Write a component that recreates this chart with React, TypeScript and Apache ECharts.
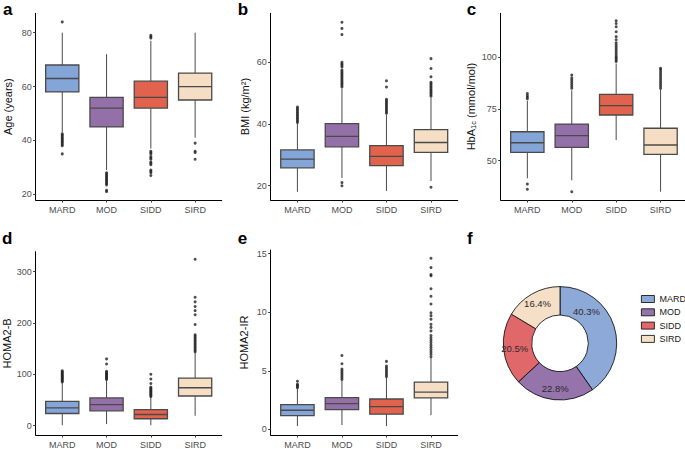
import React, { useEffect, useRef } from 'react';
import * as echarts from 'echarts';

// ---------------- data ----------------
const CATEGORIES = ['MARD', 'MOD', 'SIDD', 'SIRD'];

// box stats per category: [lower whisker, Q1, median, Q3, upper whisker]
const AGE_BOX = [
  [43, 58, 63, 68, 80],
  [29, 45, 52, 56, 72],
  [37, 52, 56, 62, 77],
  [41, 55, 60, 65, 80],
];
const AGE_OUT = [
  [84, 42.5, 42, 41.5, 41, 40.5, 40, 39.5, 39, 38.5, 38, 35],
  [28, 27.5, 27, 26.5, 26, 25.5, 25, 24.5, 24, 23.5, 21.5, 21],
  [79, 78.5, 78, 36, 35.5, 35, 34, 33.5, 33, 32, 31.5, 31, 29, 28.5, 28, 27],
  [39, 36, 35.5, 33],
];

const BMI_BOX = [
  [18, 25.8, 28.6, 31.6, 40.2],
  [22.5, 32.6, 36, 40.1, 51.5],
  [18.3, 26.5, 29.5, 33, 43],
  [21.5, 30.8, 34, 38.2, 48.5],
];
const BMI_OUT = [
  [40.5, 41, 41.5, 42, 42.5, 43, 43.5, 44, 44.5, 45, 45.5],
  [52, 52.5, 53, 53.5, 54, 54.5, 55, 55.5, 56, 56.5, 57, 57.5, 58.5, 59, 59.5, 60, 69, 71, 73, 21, 20],
  [43.5, 44, 44.5, 45, 45.5, 46, 46.5, 47, 47.5, 48, 52, 54],
  [49, 49.5, 50, 50.5, 51, 51.5, 52, 52.5, 53, 53.5, 55.3, 58, 61.2, 19.5],
];

const HBA1C_BOX = [
  [41.5, 54, 58.7, 64, 79],
  [40.5, 56.5, 62.1, 67.7, 84],
  [60, 72.1, 76.6, 82.1, 97],
  [35, 53.1, 57.6, 65.7, 84.5],
];
const HBA1C_OUT = [
  [80, 80.7, 81.5, 82.5, 38.7, 36.2],
  [85, 86, 87, 88, 89, 90, 91.4, 35],
  [98, 98.7, 99.5, 100.2, 101, 102, 103, 104, 105, 106, 107, 108.5, 110, 112.4, 114.8, 116.4, 117.7],
  [85, 86, 87, 88, 89, 90, 91, 92, 93, 94, 94.7],
];

const HOMAB_BOX = [
  [1, 23.7, 34.7, 47.4, 83],
  [3.1, 28.9, 41, 54, 88],
  [1, 13.5, 21.8, 31.4, 56],
  [19.3, 57.8, 73.8, 92.5, 142.7],
];
const HOMAB_OUT = [
  [85, 87, 89, 91, 93, 95, 97, 99, 101, 103, 105, 107],
  [90, 92, 94, 96, 98, 100, 102, 104, 106, 120, 130],
  [57, 59, 61, 63, 65, 67, 69, 71, 73, 75, 82, 91, 100],
  [144, 147, 150, 153, 156, 159, 162, 165, 168, 171, 174, 177, 197, 216, 224, 232, 241, 250, 324],
];

const HOMAIR_BOX = [
  [0.28, 1.18, 1.63, 2.11, 3.47],
  [0.37, 1.69, 2.2, 2.7, 4.17],
  [0.28, 1.3, 1.94, 2.59, 4.45],
  [1.21, 2.68, 3.18, 4.03, 6.1],
];
const HOMAIR_OUT = [
  [3.55, 3.65, 3.75, 3.85, 4.1],
  [4.25, 4.4, 4.55, 4.7, 4.85, 5.0, 5.15, 5.6, 6.3],
  [4.5, 4.65, 4.8, 4.95, 5.1, 5.25, 5.4, 5.8],
  [6.2, 6.4, 6.6, 6.8, 7.0, 7.2, 7.4, 7.6, 7.8, 8.0, 8.4, 8.7, 8.96, 9.4, 9.7, 9.95, 10.7, 11.35, 12.0, 13.1, 13.2, 13.8, 14.6],
];

const AGE_TICKS = [20, 40, 60, 80];
const BMI_TICKS = [20, 40, 60];
const HBA1C_TICKS = [50, 75, 100];
const HOMAB_TICKS = [0, 100, 200, 300];
const HOMAIR_TICKS = [0, 5, 10, 15];

const PIE_SHARE = [40.3, 22.8, 20.5, 16.4];

// ---------------- styles / layout ----------------
const BOX_COLORS = ['#84A5D8', '#9370A8', '#E1634E', '#F5DEC4'];
const PIE_COLORS = ['#8DA9D8', '#9474AA', '#E0686B', '#F6DFC7'];
const FONT = "'Liberation Sans', Arial, Helvetica, sans-serif";
const TICK_COLOR = '#4d4d4d';
const BOX_STROKE = '#4a4a4a';

const PANELS = [
  { letter: 'a', box: AGE_BOX, out: AGE_OUT, ticks: AGE_TICKS, name: 'Age (years)', left: 35.7, top: 13.3, width: 186, height: 186.7, yMin: 17.88, yMax: 87.2, xMax: 4.6, nameGap: 22.5, lx: 3, ly: 9 },
  { letter: 'b', box: BMI_BOX, out: BMI_OUT, ticks: BMI_TICKS, name: 'BMI (kg/m²)', left: 270.7, top: 13.3, width: 187, height: 186.7, yMin: 15.36, yMax: 75.9, xMax: 4.6, nameGap: 20, lx: 237.7, ly: 9 },
  { letter: 'c', box: HBA1C_BOX, out: HBA1C_OUT, ticks: HBA1C_TICKS, name: '{n|HbA}{s|1c}{n| (mmol/mol)}', left: 500.7, top: 13.3, width: 184.3, height: 186.7, yMin: 31.0, yMax: 121.3, xMax: 4.55, nameGap: 23, lx: 466.7, ly: 9 },
  { letter: 'd', box: HOMAB_BOX, out: HOMAB_OUT, ticks: HOMAB_TICKS, name: 'HOMA2-B', left: 35.7, top: 251.7, width: 186, height: 185, yMin: -18.1, yMax: 338.6, xMax: 4.6, nameGap: 23.2, lx: 2, ly: 238 },
  { letter: 'e', box: HOMAIR_BOX, out: HOMAIR_OUT, ticks: HOMAIR_TICKS, name: 'HOMA2-IR', left: 270.7, top: 250, width: 187, height: 186.7, yMin: -0.48, yMax: 15.3, xMax: 4.6, nameGap: 21.5, lx: 237.7, ly: 238 },
];

const renderBox = (params: any, api: any) => {
  const x = api.value(0);
  const lo = api.coord([x, api.value(1)]);
  const q1 = api.coord([x, api.value(2)]);
  const med = api.coord([x, api.value(3)]);
  const q3 = api.coord([x, api.value(4)]);
  const hi = api.coord([x, api.value(5)]);
  const w = api.size([0.75, 0])[0];
  const cx = q1[0];
  const left = cx - w / 2;
  return {
    type: 'group',
    children: [
      { type: 'line', shape: { x1: cx, y1: hi[1], x2: cx, y2: q3[1] }, style: { stroke: BOX_STROKE, lineWidth: 1 } },
      { type: 'line', shape: { x1: cx, y1: q1[1], x2: cx, y2: lo[1] }, style: { stroke: BOX_STROKE, lineWidth: 1 } },
      { type: 'rect', shape: { x: left, y: q3[1], width: w, height: q1[1] - q3[1] }, style: { fill: BOX_COLORS[params.dataIndex], stroke: BOX_STROKE, lineWidth: 1.3 } },
      { type: 'line', shape: { x1: left, y1: med[1], x2: left + w, y2: med[1] }, style: { stroke: BOX_STROKE, lineWidth: 1.3 } },
    ],
  };
};

function buildOption(): any {
  const grid: any[] = [];
  const xAxis: any[] = [];
  const yAxis: any[] = [];
  const series: any[] = [];
  const graphic: any[] = [];

  PANELS.forEach((p, i) => {
    grid.push({ left: p.left, top: p.top, width: p.width, height: p.height, containLabel: false });
    xAxis.push({
      gridIndex: i,
      type: 'value',
      min: 0.4,
      max: p.xMax,
      axisLine: { show: true, onZero: false, lineStyle: { color: '#000', width: 1 } },
      axisTick: { show: true, customValues: [1, 2, 3, 4], length: 2.5, lineStyle: { color: '#333' } },
      axisLabel: {
        show: true,
        customValues: [1, 2, 3, 4],
        formatter: (v: number) => CATEGORIES[Math.round(v) - 1] ?? '',
        color: TICK_COLOR,
        fontSize: 9,
        fontFamily: FONT,
        margin: 5,
      },
      splitLine: { show: false },
    });
    yAxis.push({
      gridIndex: i,
      type: 'value',
      min: p.yMin,
      max: p.yMax,
      axisLine: { show: true, onZero: false, lineStyle: { color: '#000', width: 1 } },
      axisTick: { show: true, customValues: p.ticks, length: 2.5, lineStyle: { color: '#333' } },
      axisLabel: { show: true, customValues: p.ticks, color: TICK_COLOR, fontSize: 9, fontFamily: FONT, margin: 4 },
      splitLine: { show: false },
      name: p.name,
      nameLocation: 'middle',
      nameGap: p.nameGap,
      nameTextStyle: {
        fontSize: 11,
        color: '#111',
        fontFamily: FONT,
        rich: {
          n: { fontSize: 11, color: '#111', fontFamily: FONT, lineHeight: 14 },
          s: { fontSize: 7.5, color: '#111', fontFamily: FONT, lineHeight: 8, verticalAlign: 'bottom' },
        },
      },
    });
    series.push({
      type: 'custom',
      xAxisIndex: i,
      yAxisIndex: i,
      renderItem: renderBox,
      encode: { x: 0, y: [1, 2, 3, 4, 5] },
      data: p.box.map((b, c) => [c + 1, ...b]),
      silent: true,
      z: 2,
    });
    const pts: number[][] = [];
    p.out.forEach((vals, c) => vals.forEach((v) => pts.push([c + 1, v])));
    series.push({
      type: 'scatter',
      xAxisIndex: i,
      yAxisIndex: i,
      data: pts,
      symbolSize: 3,
      itemStyle: { color: '#222' },
      silent: true,
      z: 3,
    });
    graphic.push({
      type: 'text',
      x: p.lx,
      y: p.ly,
      style: { text: p.letter, font: `bold 17px ${FONT}`, fill: '#000', align: 'left', verticalAlign: 'middle' },
    });
  });

  graphic.push({
    type: 'text',
    x: 467,
    y: 238,
    style: { text: 'f', font: `bold 17px ${FONT}`, fill: '#000', align: 'left', verticalAlign: 'middle' },
  });

  series.push({
    type: 'pie',
    center: [560, 343.3],
    radius: [28.3, 56.7],
    startAngle: 90,
    clockwise: true,
    silent: true,
    data: CATEGORIES.map((n, i) => ({ name: n, value: PIE_SHARE[i], itemStyle: { color: PIE_COLORS[i] } })),
    itemStyle: { borderColor: '#000', borderWidth: 0.8 },
    label: {
      show: true,
      position: 'inside',
      formatter: (pp: any) => `${Number(pp.value).toFixed(1)}%`,
      fontSize: 9.5,
      fontWeight: 'normal',
      color: '#2a2a2a',
      fontFamily: FONT,
    },
    labelLine: { show: false },
    labelLayout: (pp: any) => (pp.dataIndex === 0 ? { dx: -17, dy: -18 } : {}),
    emphasis: { disabled: true },
  });

  return {
    animation: false,
    backgroundColor: '#fff',
    textStyle: { fontFamily: FONT },
    grid,
    xAxis,
    yAxis,
    series,
    graphic,
    legend: {
      orient: 'vertical',
      left: 636,
      top: 289.5,
      itemWidth: 13,
      itemHeight: 7,
      itemGap: 4.3,
      icon: 'rect',
      selectedMode: false,
      itemStyle: { borderColor: '#000', borderWidth: 0.8 },
      textStyle: { fontSize: 9, color: '#1a1a1a', fontFamily: FONT },
      data: CATEGORIES,
    },
  };
}

export default function App() {
  const ref = useRef<HTMLDivElement>(null);
  useEffect(() => {
    if (!ref.current) return;
    const chart = echarts.init(ref.current, null, { renderer: 'svg' });
    chart.setOption(buildOption());
    return () => chart.dispose();
  }, []);
  return (
    <div
      ref={ref}
      style={{ position: 'fixed', left: 0, top: 0, width: 685, height: 449, background: '#fff' }}
    />
  );
}
